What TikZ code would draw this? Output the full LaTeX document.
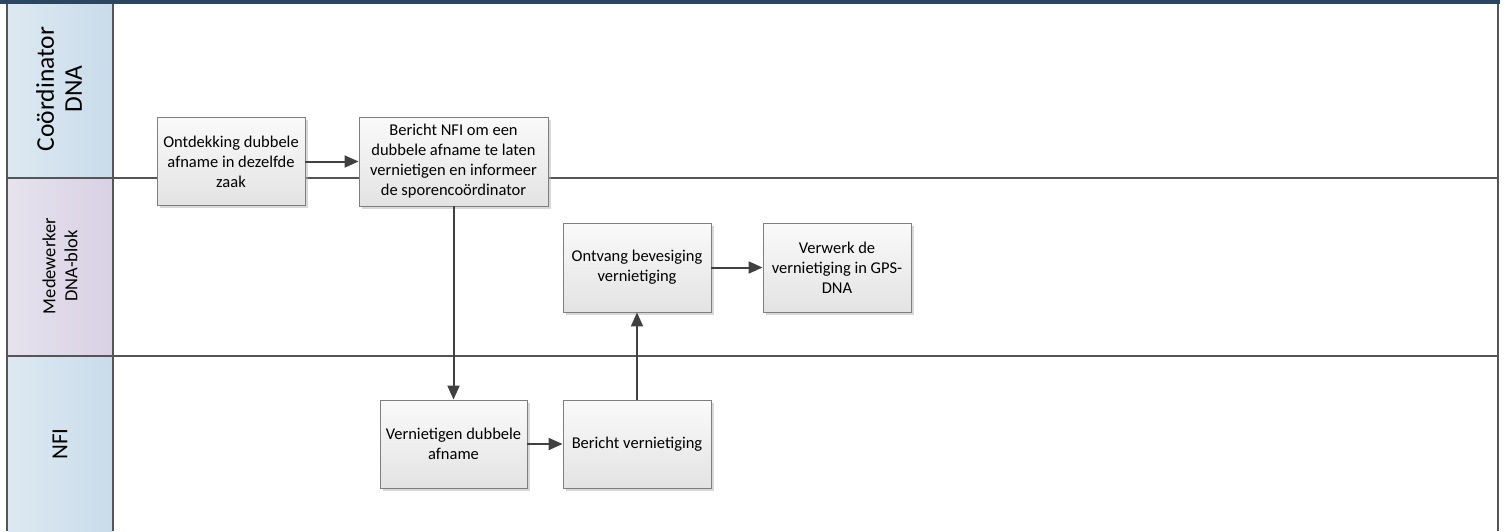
\documentclass[tikz,border=0pt]{standalone}
\usepackage{fontspec}
\setmainfont{Carlito}
\usetikzlibrary{arrows.meta,shadows}
\definecolor{navy}{HTML}{2C4660}
\definecolor{laneline}{HTML}{555555}
\definecolor{boxline}{HTML}{7F7F7F}
\definecolor{arrowc}{HTML}{404040}
\definecolor{blueA}{HTML}{DDE9F2}
\definecolor{blueB}{HTML}{C9DCEA}
\definecolor{lavA}{HTML}{E6E2EE}
\definecolor{lavB}{HTML}{D8D1E4}
\tikzset{
  procbox/.style={draw=boxline, line width=0.9pt, top color=white!98!black, bottom color=white!89!black,
    drop shadow={shadow xshift=2.5pt, shadow yshift=-2.5pt, fill=black!30, opacity=0.5},
    align=center, font=\fontsize{16.5}{20}\selectfont, inner sep=2pt},
  flow/.style={draw=arrowc, line width=2pt, -{Triangle[length=14pt,width=12pt]}},
  laneln/.style={draw=laneline, line width=1.6pt},
  lanehead/.style={rotate=90, align=center, text=black}
}
\begin{document}
\begin{tikzpicture}[x=1pt,y=-1pt]
\useasboundingbox (0,0) rectangle (1504,531);
% header column fills
\shade[left color=blueA, right color=blueB] (7,3) rectangle (113,178);
\shade[left color=lavA, right color=lavB] (7,178) rectangle (113,356);
\shade[left color=blueA, right color=blueB] (7,356) rectangle (113,531);
% lane lines
\draw[laneln] (7,178) -- (1498,178);
\draw[laneln] (7,356) -- (1498,356);
\draw[laneln] (7,3) -- (7,531);
\draw[laneln] (113,3) -- (113,531);
\draw[laneln] (1498,3) -- (1498,531);
% top band
\fill[navy] (0,0) rectangle (1500,3.5);
% lane headers
\node[lanehead, font=\fontsize{25.5}{28}\selectfont] (h1) at (59,89) {Coördinator\\DNA};
\node[lanehead, font=\fontsize{18.5}{22}\selectfont] (h2) at (60,266) {Medewerker\\DNA-blok};
\node[lanehead, font=\fontsize{23}{26}\selectfont] (h3) at (60,444) {NFI};
% boxes
\node[procbox, minimum width=148pt, minimum height=88pt] (b1) at (231,161.5)
  {Ontdekking dubbele\\afname in dezelfde\\zaak};
\node[procbox, minimum width=189pt, minimum height=89pt] (b2) at (453.5,161.5)
  {Bericht NFI om een\\dubbele afname te laten\\vernietigen en informeer\\de sporencoördinator};
\node[procbox, minimum width=148pt, minimum height=89pt] (b3) at (637,267.5)
  {Ontvang bevesiging\\vernietiging};
\node[procbox, minimum width=148pt, minimum height=89pt] (b4) at (837,267.5)
  {Verwerk de\\vernietiging in GPS-\\DNA};
\node[procbox, minimum width=147pt, minimum height=88pt] (b5) at (453.5,444)
  {Vernietigen dubbele\\afname};
\node[procbox, minimum width=148pt, minimum height=88pt] (b6) at (637,444)
  {Bericht vernietiging};
% connectors
\draw[flow] (b1.east) -- (b1.east -| b2.west);
\draw[flow] (b2.south) -- (b2.south |- b5.north);
\draw[flow] (b5.east) -- (b5.east -| b6.west);
\draw[flow] (b6.north) -- (b6.north |- b3.south);
\draw[flow] (b3.east) -- (b3.east -| b4.west);
\end{tikzpicture}
\end{document}
